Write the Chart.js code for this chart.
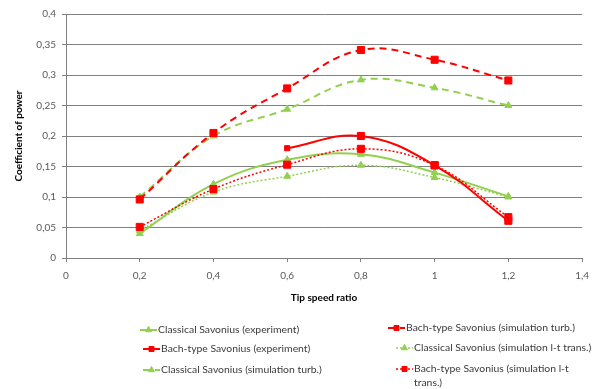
<!DOCTYPE html>
<html>
<head>
<meta charset="utf-8">
<script src="https://cdn.jsdelivr.net/npm/chart.js@4/dist/chart.umd.min.js"></script>
<style>
  html, body { margin: 0; padding: 0; background: #fff; }
  #wrap { position: relative; width: 597px; height: 389px; }
</style>
</head>
<body>
<div id="wrap"><canvas id="c" width="597" height="389"></canvas></div>
<script>
// Tip speed ratio values shared by every series
const tipSpeedRatio = [0.2, 0.4, 0.6, 0.8, 1.0, 1.2];

// Power coefficients (null = not measured / not simulated)
const classicalExperiment = [0.040, 0.121, 0.161, 0.170, 0.140, 0.101];
const bachExperiment      = [null, null, 0.180, 0.200, 0.152, 0.061];
const classicalSimTurb    = [0.100, 0.200, 0.244, 0.292, 0.279, 0.250];
const bachSimTurb         = [0.096, 0.205, 0.278, 0.341, 0.325, 0.291];
const classicalSimLT      = [0.045, 0.108, 0.134, 0.152, 0.132, 0.100];
const bachSimLT           = [0.051, 0.113, 0.153, 0.179, 0.152, 0.067];

const seriesLabels = [
  'Classical Savonius (experiment)',
  'Bach-type Savonius (experiment)',
  'Classical Savonius (simulation turb.)',
  'Bach-type Savonius (simulation turb.)',
  'Classical Savonius (simulation l-t trans.)',
  'Bach-type Savonius (simulation l-t trans.)'
];

const xTicks = [0, 0.2, 0.4, 0.6, 0.8, 1, 1.2, 1.4];
const yTicks = [0, 0.05, 0.1, 0.15, 0.2, 0.25, 0.3, 0.35, 0.4];

const GREEN = '#92d050';
const RED = '#ff0000';

function toPoints(values) {
  return tipSpeedRatio.map((x, i) => ({ x: x, y: values[i] }));
}

function decimalComma(v) {
  return String(Math.round(v * 100) / 100).replace('.', ',');
}

function series(label, values, color, style, dash, width, radius, order) {
  return {
    label: label,
    data: toPoints(values),
    borderColor: color,
    backgroundColor: color,
    pointBackgroundColor: color,
    pointBorderColor: color,
    pointStyle: style,
    pointRadius: radius,
    pointBorderWidth: 1,
    borderWidth: width,
    borderDash: dash,
    tension: 0.4,
    spanGaps: false,
    order: order
  };
}

const datasets = [
  series(seriesLabels[0], classicalExperiment, GREEN, 'triangle', [], 2, 4, 2),
  series(seriesLabels[1], bachExperiment, RED, 'rect', [], 2, [5, 5, 3.6, 5, 5, 5], 1),
  series(seriesLabels[2], classicalSimTurb, GREEN, 'triangle', [7, 5], 2, 4, 2),
  series(seriesLabels[3], bachSimTurb, RED, 'rect', [7, 5], 2, 5, 1),
  series(seriesLabels[4], classicalSimLT, GREEN, 'triangle', [2, 2], 1.5, 4, 2),
  series(seriesLabels[5], bachSimLT, RED, 'rect', [2, 2], 1.5, 5, 1)
];

// Two-column legend under the plot, drawn on the canvas
const bottomLegend = {
  id: 'bottomLegend',
  afterDraw(chart, args, opts) {
    const ctx = chart.ctx;
    ctx.save();
    ctx.font = opts.font;
    ctx.textBaseline = 'middle';
    chart.data.datasets.forEach((ds, i) => {
      const slot = opts.slots[i];
      const x0 = slot.x, y0 = slot.y;
      ctx.save();
      ctx.strokeStyle = ds.borderColor;
      ctx.lineWidth = ds.borderWidth;
      ctx.setLineDash(ds.borderDash || []);
      ctx.beginPath();
      ctx.moveTo(x0, y0);
      ctx.lineTo(x0 + opts.sampleWidth, y0);
      ctx.stroke();
      ctx.restore();
      ctx.save();
      ctx.fillStyle = ds.borderColor;
      ctx.strokeStyle = ds.borderColor;
      ctx.lineWidth = 1;
      Chart.helpers.drawPoint(ctx, { pointStyle: ds.pointStyle, radius: opts.markerRadius, borderWidth: 1, rotation: 0 },
        x0 + opts.sampleWidth / 2, y0);
      ctx.restore();
      // word-wrapped label
      ctx.fillStyle = opts.color;
      const words = ds.label.split(' ');
      const lines = [];
      let line = '';
      words.forEach(w => {
        const test = line ? line + ' ' + w : w;
        if (ctx.measureText(test).width > opts.maxWidth && line) {
          lines.push(line);
          line = w;
        } else {
          line = test;
        }
      });
      lines.push(line);
      lines.forEach((t, k) => {
        ctx.fillText(t, x0 + opts.sampleWidth + 1, y0 + k * opts.lineHeight);
      });
    });
    ctx.restore();
  }
};

new Chart(document.getElementById('c'), {
  type: 'line',
  data: { datasets: datasets },
  plugins: [bottomLegend],
  options: {
    responsive: false,
    animation: false,
    devicePixelRatio: 1,
    layout: { padding: { left: 9, right: 14, top: 14, bottom: 81 } },
    plugins: {
      legend: { display: false },
      tooltip: { enabled: false },
      bottomLegend: {
        font: '10.4px Lato',
        color: '#3a3a3a',
        sampleWidth: 17,
        markerRadius: 3.5,
        lineHeight: 14,
        maxWidth: 180,
        slots: [
          { x: 140, y: 330 },
          { x: 143, y: 349 },
          { x: 143, y: 370 },
          { x: 388, y: 328 },
          { x: 396, y: 348 },
          { x: 396, y: 369 }
        ]
      }
    },
    scales: {
      x: {
        type: 'linear',
        min: 0,
        max: 1.4,
        afterBuildTicks: (scale) => { scale.ticks = xTicks.map(v => ({ value: v })); },
        afterFit: (scale) => { scale.height = 50; },
        border: { display: true, color: '#808080', width: 1 },
        grid: { display: true, drawOnChartArea: false, drawTicks: true, tickLength: 4, color: '#808080' },
        ticks: {
          padding: 8,
          color: '#595959',
          font: { family: 'Lato', size: 10 },
          callback: (v) => decimalComma(v)
        },
        title: {
          display: true,
          text: 'Tip speed ratio',
          color: '#000000',
          font: { family: 'Lato', size: 10, weight: 'bold' },
          padding: { top: 4, bottom: 4 }
        }
      },
      y: {
        type: 'linear',
        min: 0,
        max: 0.4,
        afterBuildTicks: (scale) => { scale.ticks = yTicks.map(v => ({ value: v })); },
        afterFit: (scale) => { scale.width = 57; },
        border: { display: true, color: '#808080', width: 1 },
        grid: { display: true, drawOnChartArea: true, drawTicks: true, tickLength: 4, color: '#808080', lineWidth: 1 },
        ticks: {
          padding: 6,
          color: '#595959',
          font: { family: 'Lato', size: 10 },
          callback: (v) => decimalComma(v)
        },
        title: {
          display: true,
          text: 'Coefficient of power',
          color: '#000000',
          font: { family: 'Lato', size: 10, weight: 'bold' },
          padding: { top: 4, bottom: 4 }
        }
      }
    }
  }
});
</script>
</body>
</html>
